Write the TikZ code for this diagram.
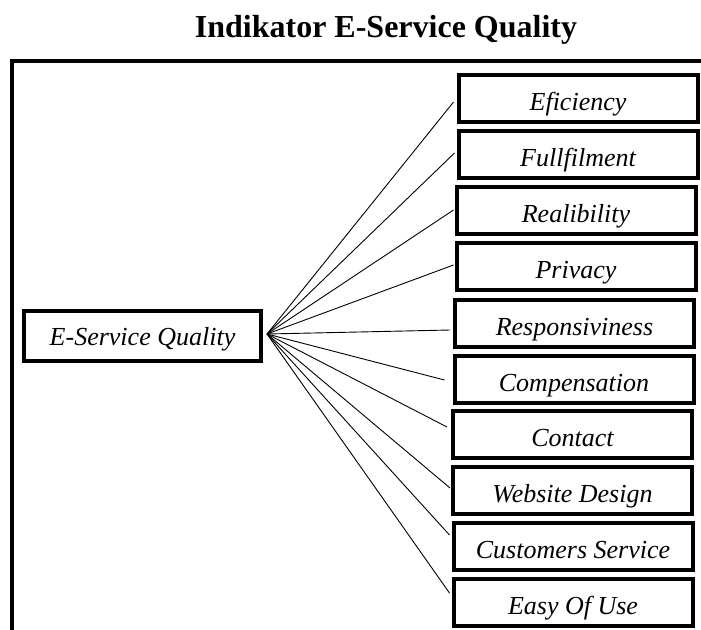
\documentclass[tikz,border=0pt]{standalone}
\usepackage{fontspec}
\setmainfont{Liberation Serif}
\usepackage{tikz}
\usetikzlibrary{positioning}

\begin{document}
\begin{tikzpicture}[
  x=1pt,y=-1pt,
  font=\fontsize{26}{30}\selectfont\itshape,
  ind/.style={draw,line width=4pt,minimum width=239pt,minimum height=47pt,inner sep=2pt,
    text height=24pt,text depth=0pt},
  hubbox/.style={draw,line width=4pt,minimum width=237pt,minimum height=50pt,inner sep=2pt,
    text height=18pt,text depth=0pt},
  link/.style={line width=0.9pt}]
\useasboundingbox (0,0) rectangle (701,629);
\node[font=\fontsize{32}{36}\selectfont\bfseries] (title) at (386,30) {Indikator E-Service Quality};
\draw[line width=4pt] (11.5,640) -- (11.5,61) -- (710,61);
\node[hubbox] (esq) at (142.5,336) {E-Service Quality};
\node[ind] (b1) at (578,98) {Eficiency};
\node[ind] (b2) at (578,154) {Fullfilment};
\node[ind] (b3) at (576,210.5) {Realibility};
\node[ind] (b4) at (576,266.5) {Privacy};
\node[ind] (b5) at (574.5,323) {Responsiviness};
\node[ind] (b6) at (574,379) {Compensation};
\node[ind] (b7) at (572.5,434) {Contact};
\node[ind] (b8) at (572.5,490) {Website Design};
\node[ind] (b9) at (573,546.5) {Customers Service};
\node[ind] (b10) at (573,602.5) {Easy Of Use};
\coordinate (hub) at ([shift={(4,-2)}]esq.east);
\foreach \i/\dx/\dy in {1/-3/4,2/-2/-1,3/-1/-0.5,4/-1/-1.5,5/-3/7,6/-8/1,7/-4/-7,8/-1/-2,9/-2/-11.5,10/-2/-9.5}
  \draw[link] (hub) -- ([shift={(\dx,\dy)}]b\i.west);
\end{tikzpicture}
\end{document}
